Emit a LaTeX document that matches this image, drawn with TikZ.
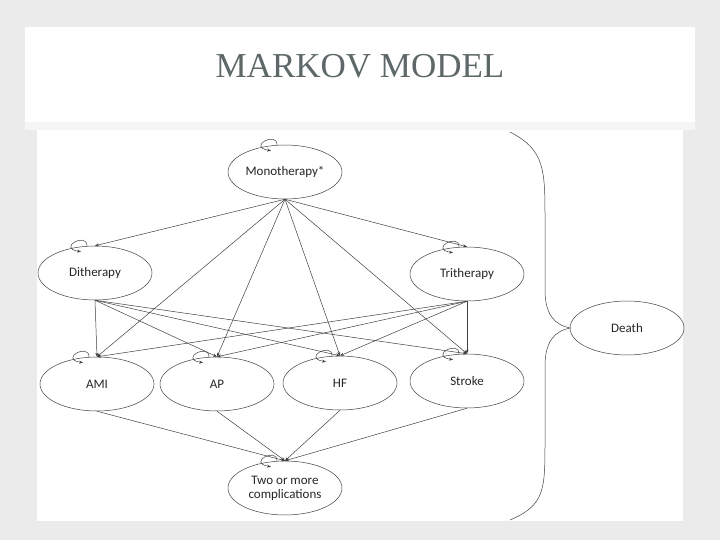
\documentclass[tikz,border=0pt]{standalone}
\usepackage{fontspec}
\setmainfont{Carlito}
\newfontfamily\titlefont{Liberation Serif}
\usetikzlibrary{shapes.geometric,arrows.meta}
\definecolor{titlegray}{HTML}{5E6868}
\begin{document}
\begin{tikzpicture}[x=1pt,y=-1pt,
  st/.style={ellipse,draw=black!75,line width=0.5pt,minimum width=114pt,minimum height=54pt,inner sep=0pt,font=\fontsize{13}{14}\selectfont,align=center,text=black!85},
  ar/.style={-{Stealth[length=4pt,width=3pt]},draw=black!75,line width=0.5pt}]
\fill[black!8] (0,0) rectangle (720,540);
\useasboundingbox (0,0) rectangle (720,540);
\fill[white] (25,27) rectangle (695,122);
\fill[black!4] (25,122) rectangle (695,130);
\fill[white] (37,130) rectangle (683,521);
\node[font=\titlefont\fontsize{35}{36}\selectfont,text=titlegray] (title) at (360,66) {MARKOV MODEL};
\node[st] (mono) at (285,172) {Monotherapy*};
\node[st] (di) at (95,273) {Ditherapy};
\node[st] (tri) at (467,274) {Tritherapy};
\node[st] (death) at (627,328) {Death};
\node[st] (ami) at (97,384) {AMI};
\node[st] (ap) at (217,384) {AP};
\node[st] (hf) at (340,383) {HF};
\node[st] (stroke) at (467,381) {Stroke};
\node[st] (two) at (285,488) {Two or more\\complications};
\foreach \t in {di,tri,ami,ap,hf,stroke} \draw[ar] (mono.south) -- (\t.north);
\foreach \t in {ami,ap,hf,stroke} {\draw[ar] (di.south) -- (\t.north); \draw[ar] (tri.south) -- (\t.north);
  \draw[ar] (\t.south) -- (two.north);}
\foreach \t in {mono,di,tri,ami,ap,hf,stroke,two}
  \draw[ar] ([xshift=-8pt]\t.north) .. controls +(0,-14) and +(-24,-4) .. ([xshift=-14pt,yshift=-6pt]\t.north);
\coordinate (bt) at (510,132);
\coordinate (bb) at (510,520);
\coordinate (tip) at (570,328);
\draw[black!75,line width=0.5pt] (bt) .. controls (545,150) and (545,170) .. (545,220) -- (545,290) .. controls (545,315) and (555,325) .. (tip)
  .. controls (555,331) and (545,341) .. (545,366) -- (545,440) .. controls (545,490) and (545,505) .. (bb);
\end{tikzpicture}
\end{document}
